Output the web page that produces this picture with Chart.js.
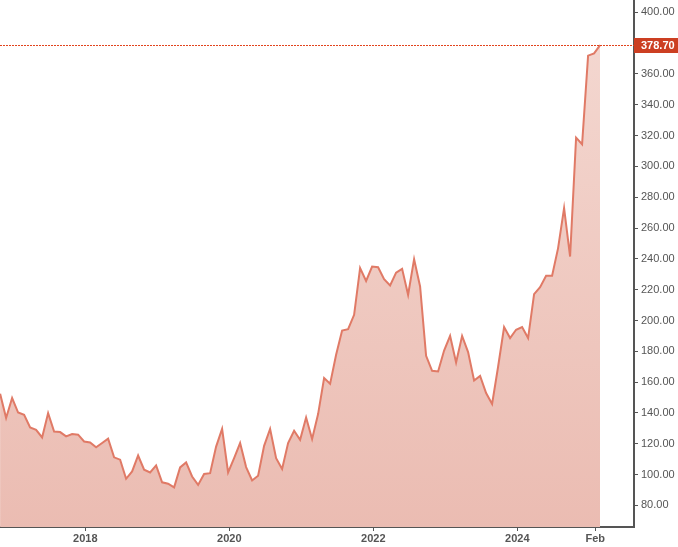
<!DOCTYPE html>
<html>
<head>
<meta charset="utf-8">
<script src="https://cdn.jsdelivr.net/npm/chart.js@4.4.1/dist/chart.umd.min.js"></script>
<style>
  html, body { margin: 0; padding: 0; background: #fff; }
  #wrap { width: 678px; height: 547px; }
</style>
</head>
<body>
<div id="wrap"><canvas id="chart" width="678" height="547"></canvas></div>
<script>
// monthly closes, first point = late Oct 2016
const startYear = 2016;
const startMonth = 9.8;
const prices = [
  152.5, 136.7, 149.7, 140.3, 138.8, 130.6, 129.1, 124.1, 139.9, 128.0,
  127.6, 124.8, 126.3, 125.9, 121.5, 120.9, 117.7, 120.5, 123.3, 111.2,
  109.7, 97.3, 102.1, 112.4, 103.2, 101.4, 106.0, 95.0, 94.1, 91.7,
  104.7, 107.9, 98.8, 93.3, 100.4, 100.9, 118.2, 129.7, 101.4, 110.7,
  120.5, 104.9, 96.2, 99.3, 118.7, 129.6, 110.7, 103.6, 120.5, 128.5,
  122.6, 137.1, 123.1, 139.3, 162.6, 158.9, 177.8, 193.5, 194.4, 203.7,
  234.0, 225.7, 235.0, 234.6, 226.8, 222.7, 231.1, 233.5, 216.7, 239.8,
  222.1, 177.1, 167.4, 166.9, 180.5, 190.0, 172.8, 190.0, 179.5, 161.1,
  164.1, 152.9, 145.8, 170.0, 195.7, 188.6, 194.0, 195.7, 188.6, 217.1,
  221.6, 229.0, 229.0, 247.0, 272.9, 241.5, 318.7, 314.4, 371.9, 373.4,
  378.7
];
const lastPrice = 378.70;
const xTickValues = [2018, 2020, 2022, 2024, 2025 + 1 / 12];
const xTickLabels = ["2018", "2020", "2022", "2024", "Feb"];
const yTickValues = [80, 100, 120, 140, 160, 180, 200, 220, 240, 260, 280, 300, 320, 340, 360, 380, 400];

const points = prices.map((v, i) => ({x: startYear + (startMonth + i) / 12, y: v}));
const axisColor = "#555555";

const lastPricePlugin = {
  id: "lastPrice",
  afterDraw(chart) {
    const {ctx, chartArea, scales} = chart;
    const y = Math.round(scales.y.getPixelForValue(lastPrice)) + 0.5;
    ctx.save();
    ctx.strokeStyle = "#e2431d";
    ctx.lineWidth = 1;
    ctx.setLineDash([2, 1]);
    ctx.beginPath();
    ctx.moveTo(chartArea.left, y);
    ctx.lineTo(chartArea.right, y);
    ctx.stroke();
    ctx.setLineDash([]);
    ctx.fillStyle = "#cc3f22";
    ctx.fillRect(chartArea.right, y - 7.5, chart.width - chartArea.right, 15);
    ctx.fillStyle = "#ffffff";
    ctx.font = "bold 11px Arial, 'Liberation Sans', sans-serif";
    ctx.textBaseline = "middle";
    ctx.textAlign = "left";
    ctx.fillText(lastPrice.toFixed(2), chartArea.right + 7, y + 0.5);
    ctx.restore();
  }
};

new Chart(document.getElementById("chart"), {
  type: "line",
  data: {
    datasets: [{
      data: points,
      borderColor: "#e07a66",
      borderWidth: 2,
      pointRadius: 0,
      tension: 0,
      fill: "start",
      backgroundColor: context => {
        const area = context.chart.chartArea;
        if (!area) return "#efc6bd";
        const g = context.chart.ctx.createLinearGradient(0, area.top, 0, area.bottom);
        g.addColorStop(0, "#f4d9d2");
        g.addColorStop(1, "#ebbcb2");
        return g;
      }
    }]
  },
  options: {
    responsive: false,
    devicePixelRatio: 1,
    animation: false,
    layout: {padding: 0},
    plugins: {legend: {display: false}, tooltip: {enabled: false}},
    scales: {
      x: {
        type: "linear",
        min: 2016.815,
        max: 2025.621,
        afterBuildTicks: scale => { scale.ticks = xTickValues.map(v => ({value: v})); },
        afterFit: scale => { scale.height = 20; scale.paddingLeft = 0; scale.paddingRight = 0; },
        ticks: {
          autoSkip: false,
          maxRotation: 0,
          padding: 1,
          color: axisColor,
          font: {family: "Arial, 'Liberation Sans', sans-serif", size: 11, weight: "bold"},
          callback: (v, i) => xTickLabels[i]
        },
        grid: {display: true, drawOnChartArea: false, drawTicks: true, tickLength: 4, color: axisColor},
        border: {display: true, color: axisColor, width: 2}
      },
      y: {
        position: "right",
        min: 66,
        max: 408,
        afterBuildTicks: scale => { scale.ticks = yTickValues.map(v => ({value: v})); },
        afterFit: scale => { scale.width = 44; scale.paddingTop = 0; scale.paddingBottom = 0; },
        ticks: {
          padding: 3,
          color: axisColor,
          font: {family: "Arial, 'Liberation Sans', sans-serif", size: 11},
          callback: v => Number(v).toFixed(2)
        },
        grid: {display: true, drawOnChartArea: false, drawTicks: true, tickLength: 4, color: axisColor},
        border: {display: true, color: axisColor, width: 2}
      }
    }
  },
  plugins: [lastPricePlugin]
});
</script>
</body>
</html>
